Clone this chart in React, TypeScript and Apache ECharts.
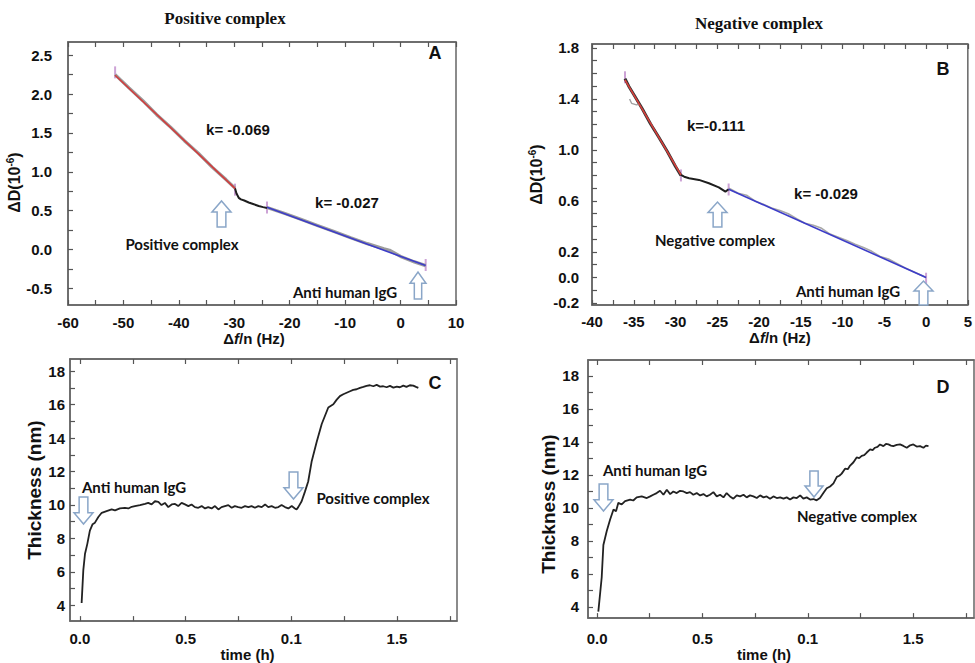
import React, { useEffect, useRef } from 'react';
import * as echarts from 'echarts';

// ---------- Panel A (Positive complex, ΔD vs Δf/n) ----------
const aXLabels = [-60, -50, -40, -30, -20, -10, 0, 10];
const aXTicks = [-60, -55, -50, -45, -40, -35, -30, -25, -20, -15, -10, -5, 0, 5, 10];
const aYLabels = [-0.5, 0, 0.5, 1, 1.5, 2, 2.5];
const aYTicks = [-0.5, -0.25, 0, 0.25, 0.5, 0.75, 1, 1.25, 1.5, 1.75, 2, 2.25, 2.5];
const aRawRed = [[-51.5, 2.25], [-49, 2.08], [-46.5, 1.915], [-44, 1.735], [-41.5, 1.575], [-39, 1.4], [-36.5, 1.24], [-34, 1.06], [-31.5, 0.9], [-29.87, 0.79]];
const aRawMid = [[-29.87, 0.787], [-29.6, 0.72], [-29.2, 0.665], [-28.8, 0.645], [-28.2, 0.63], [-27.4, 0.605], [-26.6, 0.585], [-25.6, 0.56], [-24.8, 0.545], [-24.1, 0.535]];
const aRawBlue = [[-24.1, 0.54], [-21, 0.465], [-18, 0.39], [-15, 0.31], [-12, 0.23], [-9, 0.15], [-6, 0.075], [-3, 0.01], [-2, -0.01], [0, -0.09], [2.5, -0.16], [4.53, -0.208]];
const aFitRed = [[-51.5, 2.243], [-29.87, 0.787]];
const aFitBlue = [[-24.1, 0.542], [4.53, -0.208]];
const aEnds = [[-51.5, 2.28], [-29.87, 0.77], [-24.1, 0.54], [4.53, -0.2]];

// ---------- Panel B (Negative complex, ΔD vs Δf/n) ----------
const bXLabels = [-40, -35, -30, -25, -20, -15, -10, -5, 0, 5];
const bXTicks = [-40, -37.5, -35, -32.5, -30, -27.5, -25, -22.5, -20, -17.5, -15, -12.5, -10, -7.5, -5, -2.5, 0, 2.5, 5];
const bYLabels = [-0.2, 0, 0.2, 0.6, 1.0, 1.4, 1.8];
const bYTicks = [-0.2, -0.1, 0, 0.1, 0.2, 0.3, 0.4, 0.5, 0.6, 0.7, 0.8, 0.9, 1.0, 1.1, 1.2, 1.3, 1.4, 1.5, 1.6, 1.7, 1.8];
const bRawRed = [[-36.05, 1.56], [-35.6, 1.5], [-35.0, 1.435], [-34.0, 1.325], [-33.0, 1.205], [-32.0, 1.1], [-31.0, 0.99], [-30.0, 0.87], [-29.35, 0.8]];
const bRawBit = [[-35.5, 1.4], [-35.26, 1.366], [-34.67, 1.353], [-34.4, 1.36]];
const bRawMid = [[-29.35, 0.804], [-28.96, 0.79], [-28.37, 0.778], [-27.19, 0.765], [-26.0, 0.739], [-24.82, 0.707], [-24.03, 0.673], [-23.64, 0.692]];
const bRawBlue = [[-23.6, 0.7], [-22.5, 0.66], [-21.5, 0.645], [-20.5, 0.6], [-19.5, 0.575], [-18.5, 0.545], [-17.5, 0.525], [-16.5, 0.5], [-15.5, 0.46], [-14.5, 0.425], [-13.5, 0.41], [-12.5, 0.385], [-11.5, 0.34], [-10.5, 0.315], [-9.5, 0.29], [-8.5, 0.26], [-7.5, 0.235], [-6.5, 0.205], [-5.5, 0.165], [-4.5, 0.145], [-3.5, 0.11], [-2.5, 0.075], [-1.5, 0.045], [-0.5, 0.015], [0, 0]];
const bFitRed = [[-36.05, 1.549], [-29.35, 0.804]];
const bFitBlue = [[-23.64, 0.692], [0, 0]];
const bEnds = [[-36.05, 1.57], [-29.35, 0.8], [-23.64, 0.69], [0, -0.01]];

// ---------- Panels C, D (Thickness vs time) ----------
const tLabels = [0, 0.5, 1, 1.5];
const tTicks = [0, 0.25, 0.5, 0.75, 1, 1.25, 1.5, 1.75];
const thLabels = [4, 6, 8, 10, 12, 14, 16, 18];
const thTicks = [4, 5, 6, 7, 8, 9, 10, 11, 12, 13, 14, 15, 16, 17, 18];

const cThickness = [
  [0.008, 4.13], [0.016, 6.1], [0.024, 7.08], [0.035, 7.67], [0.047, 8.46], [0.06, 8.85], [0.071, 8.94], [0.087, 9.28], [0.103, 9.53], [0.126, 9.63],
  [0.15, 9.73], [0.166, 9.67], [0.189, 9.79], [0.213, 9.83], [0.229, 9.79], [0.245, 9.89], [0.26, 9.93], [0.284, 9.99], [0.308, 10.06], [0.323, 10.12],
  [0.339, 10.03], [0.355, 10.22], [0.371, 10.18], [0.386, 9.99], [0.402, 10.12], [0.418, 9.87], [0.434, 10.03], [0.45, 10.06], [0.465, 9.93], [0.481, 10.12],
  [0.497, 10.03], [0.513, 9.93], [0.528, 10.03], [0.544, 9.87], [0.56, 9.83], [0.576, 9.93], [0.592, 9.79], [0.607, 9.87], [0.623, 9.79], [0.639, 9.93],
  [0.655, 9.73], [0.67, 9.87], [0.686, 9.93], [0.702, 9.99], [0.718, 9.83], [0.733, 9.93], [0.749, 9.87], [0.765, 9.83], [0.781, 9.93], [0.797, 9.87],
  [0.812, 9.93], [0.828, 9.83], [0.844, 9.93], [0.86, 9.87], [0.876, 10.03], [0.891, 9.87], [0.907, 9.93], [0.923, 9.83], [0.939, 9.87], [0.954, 9.99],
  [0.97, 9.87], [0.986, 9.79], [1.002, 9.93], [1.017, 9.79], [1.025, 9.73], [1.033, 9.87], [1.049, 10.22], [1.065, 10.81], [1.08, 11.4], [1.096, 12.58],
  [1.12, 13.76], [1.144, 14.84], [1.175, 15.83], [1.199, 16.02], [1.215, 16.3], [1.23, 16.51], [1.246, 16.62], [1.262, 16.71], [1.278, 16.8], [1.293, 16.88],
  [1.309, 16.92], [1.325, 17.0], [1.341, 17.06], [1.356, 17.12], [1.372, 17.16], [1.388, 17.1], [1.404, 17.18], [1.42, 17.08], [1.435, 17.1], [1.451, 17.04],
  [1.467, 17.12], [1.483, 17.02], [1.499, 17.08], [1.514, 17.04], [1.53, 17.14], [1.545, 17.06], [1.561, 17.16], [1.577, 17.14], [1.59, 17.06], [1.601, 17.0],
];

const dThickness = [
  [0.006, 3.71], [0.022, 5.78], [0.03, 7.75], [0.046, 8.6], [0.062, 9.3], [0.078, 9.91], [0.09, 9.8], [0.101, 10.31], [0.117, 10.21], [0.133, 10.41],
  [0.157, 10.51], [0.172, 10.45], [0.188, 10.64], [0.212, 10.7], [0.236, 10.6], [0.252, 10.7], [0.267, 10.8], [0.283, 10.9], [0.299, 11.04], [0.315, 10.8],
  [0.331, 11.1], [0.347, 10.84], [0.362, 11.0], [0.378, 10.9], [0.394, 11.04], [0.41, 11.0], [0.426, 10.9], [0.441, 10.96], [0.457, 10.8], [0.473, 10.9],
  [0.489, 10.76], [0.505, 10.84], [0.52, 10.7], [0.536, 10.8], [0.552, 10.96], [0.568, 10.7], [0.584, 10.8], [0.6, 10.64], [0.615, 10.9], [0.631, 10.7],
  [0.647, 10.56], [0.663, 10.76], [0.679, 10.7], [0.695, 10.8], [0.71, 10.64], [0.726, 10.76], [0.742, 10.7], [0.758, 10.6], [0.774, 10.76], [0.79, 10.64],
  [0.805, 10.7], [0.821, 10.56], [0.837, 10.7], [0.853, 10.6], [0.869, 10.64], [0.885, 10.56], [0.9, 10.64], [0.916, 10.51], [0.932, 10.64], [0.948, 10.6],
  [0.964, 10.76], [0.979, 10.56], [0.995, 10.64], [1.011, 10.51], [1.027, 10.54], [1.042, 10.46], [1.058, 10.6], [1.074, 10.9], [1.09, 11.19], [1.106, 11.3],
  [1.122, 11.49], [1.138, 11.88], [1.15, 11.95], [1.161, 12.08], [1.177, 12.38], [1.19, 12.35], [1.201, 12.57], [1.217, 12.77], [1.232, 13.06], [1.244, 13.02],
  [1.256, 13.16], [1.268, 13.2], [1.28, 13.36], [1.296, 13.55], [1.308, 13.5], [1.319, 13.65], [1.331, 13.7], [1.343, 13.85], [1.359, 13.75], [1.371, 13.88],
  [1.383, 13.85], [1.395, 13.78], [1.406, 13.75], [1.422, 13.82], [1.438, 13.85], [1.454, 13.76], [1.47, 13.65], [1.486, 13.8], [1.501, 13.85], [1.517, 13.72],
  [1.533, 13.75], [1.549, 13.65], [1.561, 13.78], [1.573, 13.75],
];

// ---------- styling helpers ----------
const SANS = '"Liberation Sans", Arial, sans-serif';
const ANN = 'Lato, "Open Sans", sans-serif';
const AXIS_COLOR = '#666';
const labelFont = { color: '#111', fontWeight: 'bold' as const, fontSize: 15, fontFamily: SANS };

function axis(p: any) {
  return {
    type: 'value',
    gridIndex: p.grid,
    min: p.min,
    max: p.max,
    position: p.position,
    axisLine: { show: true, onZero: false, lineStyle: { color: AXIS_COLOR, width: 1.5 } },
    axisTick: { show: true, inside: true, length: 5, customValues: p.ticks, lineStyle: { color: '#555', width: 1.2 } },
    axisLabel: p.labels
      ? { show: true, customValues: p.labels, formatter: p.fmt, margin: p.margin ?? 8, ...labelFont }
      : { show: false },
    splitLine: { show: false },
    name: p.name,
    nameLocation: 'middle',
    nameGap: p.nameGap,
    nameRotate: p.nameRotate,
    nameTextStyle: p.nameStyle,
  };
}

const f1 = (v: number) => v.toFixed(1);
const f0 = (v: number) => String(Math.round(v));
const fTime = (v: number) => (Math.abs(v - 1) < 1e-9 ? '0.1' : v.toFixed(1));

const dDName = '{a|ΔD(10}{s|-6}{a|)}';
const dDStyle = (shift: number) => ({
  padding: [0, shift, 0, 0],
  rich: {
    a: { fontSize: 16, fontWeight: 'bold', fontFamily: SANS, color: '#111', lineHeight: 18 },
    s: { fontSize: 10, fontWeight: 'bold', fontFamily: SANS, color: '#111', lineHeight: 10, verticalAlign: 'top' },
  },
});
const dfName = '{a|Δ}{i|f}{a|/n (Hz)}';
const dfStyle = (shift: number) => ({
  padding: [0, shift, 0, 0],
  rich: {
    a: { fontSize: 15, fontWeight: 'bold', fontFamily: SANS, color: '#111' },
    i: { fontSize: 15, fontWeight: 'bold', fontStyle: 'italic', fontFamily: SANS, color: '#111' },
  },
});
const thStyle = (shift: number) => ({
  fontSize: 19, fontWeight: 'bold', fontFamily: SANS, color: '#111',
  padding: [0, shift, 0, 0],
});
const timeStyle = (shift: number) => ({
  fontSize: 15, fontWeight: 'bold', fontFamily: SANS, color: '#111',
  padding: [0, shift, 0, 0],
});

function upArrow(x0: number, y0: number, w: number, h: number) {
  const hh = 0.42 * h;
  return {
    type: 'polygon',
    shape: { points: [[x0 + 0.27 * w, y0 + h], [x0 + 0.27 * w, y0 + hh], [x0, y0 + hh], [x0 + 0.5 * w, y0], [x0 + w, y0 + hh], [x0 + 0.73 * w, y0 + hh], [x0 + 0.73 * w, y0 + h]] },
    style: { fill: '#fff', stroke: '#8aa6c8', lineWidth: 1.5 },
    z: 100,
  };
}
function downArrow(x0: number, y0: number, w: number, h: number) {
  const hh = 0.58 * h;
  return {
    type: 'polygon',
    shape: { points: [[x0 + 0.27 * w, y0], [x0 + 0.27 * w, y0 + hh], [x0, y0 + hh], [x0 + 0.5 * w, y0 + h], [x0 + w, y0 + hh], [x0 + 0.73 * w, y0 + hh], [x0 + 0.73 * w, y0]] },
    style: { fill: '#fff', stroke: '#8aa6c8', lineWidth: 1.5 },
    z: 100,
  };
}
function txt(text: string, x: number, y: number, font: string) {
  return { type: 'text', x, y, z: 100, style: { text, font, fill: '#111', align: 'center', verticalAlign: 'middle' } };
}

function line(data: number[][], xi: number, yi: number, color: string, width: number) {
  return {
    type: 'line', data, xAxisIndex: xi, yAxisIndex: yi, showSymbol: false, symbol: 'none',
    lineStyle: { color, width }, silent: true,
  };
}
function ends(data: number[][], xi: number, yi: number) {
  return {
    type: 'scatter', data, xAxisIndex: xi, yAxisIndex: yi, symbol: 'rect', symbolSize: [2, 12],
    itemStyle: { color: '#c08ccc' }, silent: true,
  };
}

const option: any = {
  animation: false,
  backgroundColor: '#fff',
  grid: [
    { left: 68, top: 42, width: 388, height: 263, show: true, borderColor: AXIS_COLOR, borderWidth: 1.5 },
    { left: 592, top: 44, width: 379, height: 261, show: true, borderColor: AXIS_COLOR, borderWidth: 1.5 },
    { left: 70, top: 359, width: 387, height: 266, show: true, borderColor: AXIS_COLOR, borderWidth: 1.5 },
    { left: 588, top: 360, width: 386, height: 265, show: true, borderColor: AXIS_COLOR, borderWidth: 1.5 },
  ],
  xAxis: [
    axis({ grid: 0, min: -60, max: 10, position: 'bottom', ticks: aXTicks, labels: aXLabels, fmt: f0, margin: 10, name: dfName, nameGap: 25, nameStyle: dfStyle(16) }),
    axis({ grid: 0, min: -60, max: 10, position: 'top', ticks: aXTicks }),
    axis({ grid: 1, min: -40, max: 5, position: 'bottom', ticks: bXTicks, labels: bXLabels, fmt: f0, margin: 9, name: dfName, nameGap: 25, nameStyle: dfStyle(0) }),
    axis({ grid: 1, min: -40, max: 5, position: 'top', ticks: bXTicks }),
    axis({ grid: 2, min: -0.047, max: 1.784, position: 'bottom', ticks: tTicks, labels: tLabels, fmt: fTime, margin: 10, name: 'time (h)', nameGap: 18, nameStyle: timeStyle(32) }),
    axis({ grid: 2, min: -0.047, max: 1.784, position: 'top', ticks: tTicks }),
    axis({ grid: 3, min: -0.043, max: 1.789, position: 'bottom', ticks: tTicks, labels: tLabels, fmt: fTime, margin: 13, name: 'time (h)', nameGap: 21, nameStyle: timeStyle(34) }),
    axis({ grid: 3, min: -0.043, max: 1.789, position: 'top', ticks: tTicks }),
  ],
  yAxis: [
    axis({ grid: 0, min: -0.715, max: 2.671, position: 'left', ticks: aYTicks, labels: aYLabels, fmt: f1, margin: 16, name: dDName, nameGap: 36, nameRotate: 90, nameStyle: dDStyle(18) }),
    axis({ grid: 1, min: -0.216, max: 1.831, position: 'left', ticks: bYTicks, labels: bYLabels, fmt: f1, margin: 13, name: dDName, nameGap: 47, nameRotate: 90, nameStyle: dDStyle(0) }),
    axis({ grid: 2, min: 3.05, max: 18.73, position: 'left', ticks: thTicks, labels: thLabels, fmt: f0, margin: 5, name: 'Thickness (nm)', nameGap: 24, nameRotate: 90, nameStyle: thStyle(0) }),
    axis({ grid: 3, min: 3.32, max: 18.97, position: 'left', ticks: thTicks, labels: thLabels, fmt: f0, margin: 9, name: 'Thickness (nm)', nameGap: 28, nameRotate: 90, nameStyle: thStyle(30) }),
  ],
  series: [
    line(aRawRed, 0, 0, '#9c9c9c', 3.2),
    line(aRawBlue, 0, 0, '#9c9c9c', 3.2),
    line(aRawMid, 0, 0, '#1e1e1e', 2),
    line(aFitRed, 0, 0, '#d23c3c', 1.6),
    line(aFitBlue, 0, 0, '#3c3cc8', 1.6),
    ends(aEnds, 0, 0),
    line(bRawRed, 2, 1, '#333', 3),
    line(bRawBit, 2, 1, '#a0a0a0', 1.4),
    line(bRawBlue, 2, 1, '#a8a8a8', 1.6),
    line(bRawMid, 2, 1, '#1e1e1e', 2),
    line(bFitRed, 2, 1, '#d8403c', 1.6),
    line(bFitBlue, 2, 1, '#3c3cc8', 1.6),
    ends(bEnds, 2, 1),
    line(cThickness, 4, 2, '#222', 1.8),
    line(dThickness, 6, 3, '#222', 1.8),
  ],
  graphic: [
    txt('Positive complex', 225, 18, 'bold 17px "Liberation Serif", "Times New Roman", serif'),
    txt('Negative complex', 759, 23, 'bold 17px "Liberation Serif", "Times New Roman", serif'),
    txt('A', 435, 53, `bold 18px ${SANS}`),
    txt('B', 943, 69, `bold 18px ${SANS}`),
    txt('C', 435, 383, `bold 18px ${SANS}`),
    txt('D', 943, 387, `bold 18px ${SANS}`),
    txt('k= -0.069', 238, 129, `bold 15px ${SANS}`),
    txt('k= -0.027', 347, 202, `bold 15px ${SANS}`),
    txt('k=-0.111', 716, 125, `bold 15px ${SANS}`),
    txt('k= -0.029', 826, 193, `bold 15px ${SANS}`),
    txt('Positive complex', 182, 244, `bold 15px ${ANN}`),
    txt('Anti human IgG', 345, 292, `bold 15px ${ANN}`),
    txt('Negative complex', 715, 240, `bold 15px ${ANN}`),
    txt('Anti human IgG', 848, 291, `bold 15px ${ANN}`),
    txt('Anti human IgG', 134, 487, `bold 15px ${ANN}`),
    txt('Positive complex', 373, 498, `bold 15px ${ANN}`),
    txt('Anti human IgG', 655, 470, `bold 15px ${ANN}`),
    txt('Negative complex', 857, 516, `bold 15px ${ANN}`),
    upArrow(212, 201, 19, 26),
    upArrow(410, 272, 16, 27),
    upArrow(708, 202, 19, 25),
    upArrow(914, 281, 19, 24),
    downArrow(74, 497, 19, 27),
    downArrow(284, 472, 19, 27),
    downArrow(594, 484, 19, 27),
    downArrow(805, 471, 18, 26),
  ],
};

export default function App() {
  const ref = useRef<HTMLDivElement>(null);
  useEffect(() => {
    document.body.style.margin = '0';
    const chart = echarts.init(ref.current as HTMLDivElement, null, { renderer: 'svg' });
    chart.setOption(option);
    return () => chart.dispose();
  }, []);
  return <div ref={ref} style={{ width: 975, height: 663, background: '#fff' }} />;
}
